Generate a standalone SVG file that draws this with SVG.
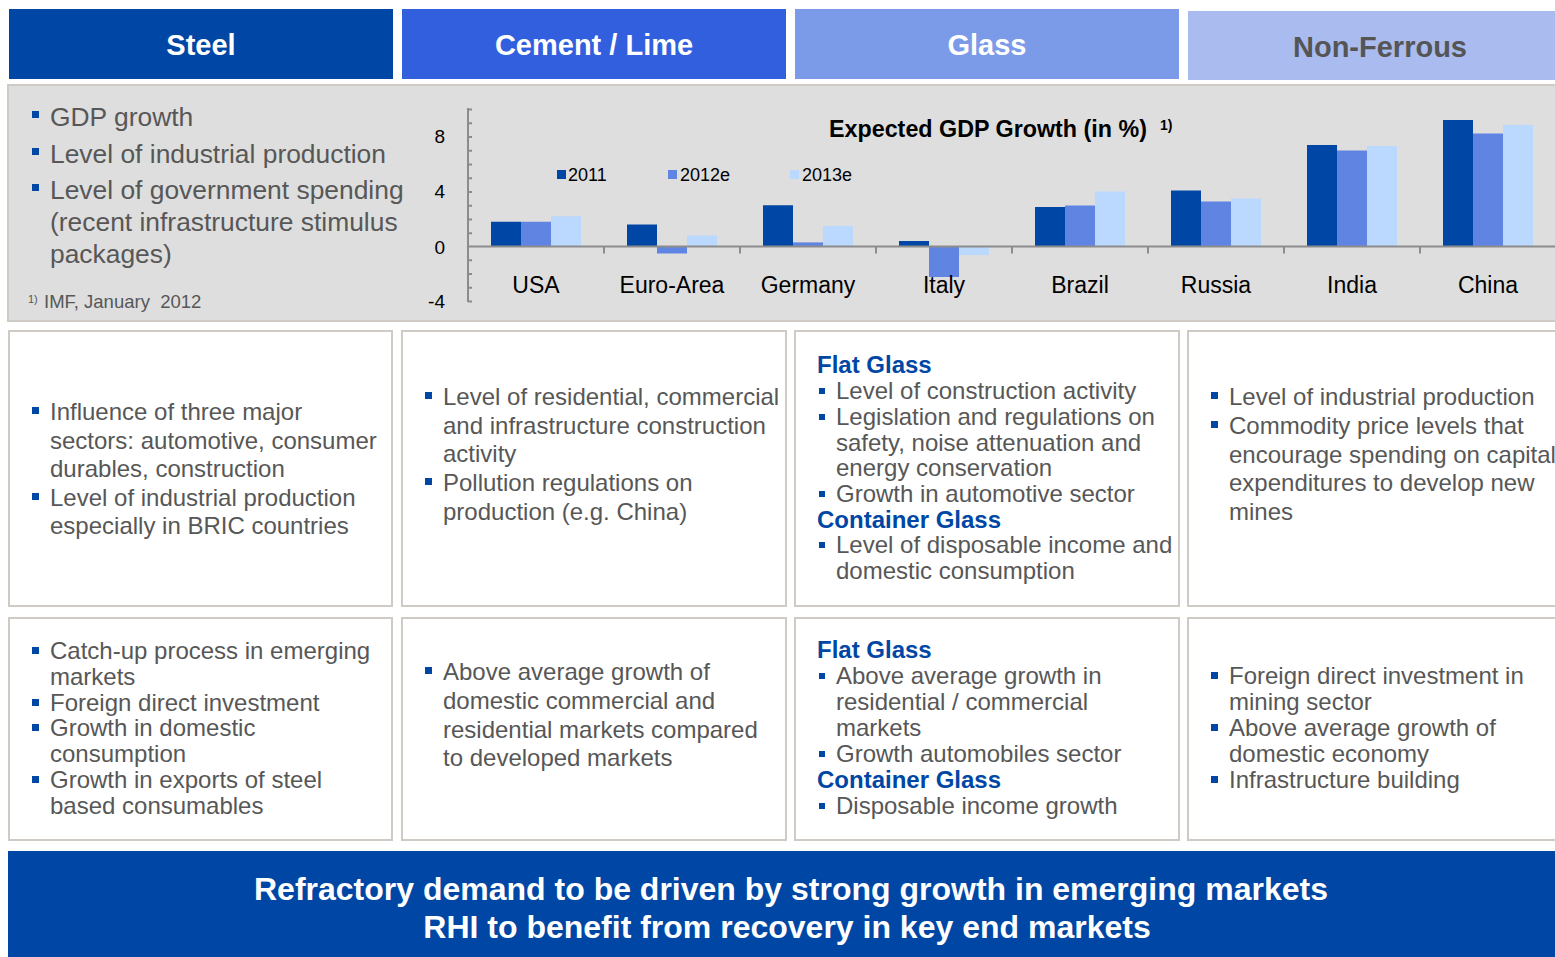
<svg xmlns="http://www.w3.org/2000/svg" width="1555" height="957" viewBox="0 0 1555 957">
<defs>
<style>
.hdr{font-family:"Liberation Sans",Arial,sans-serif;font-weight:bold;font-size:29px;fill:#fff;text-anchor:middle}
.pt{font-family:"Liberation Sans",Arial,sans-serif;font-size:26.4px;fill:#575757}
.bt{font-family:"Liberation Sans",Arial,sans-serif;font-size:24px;fill:#575757}
.sub{font-family:"Liberation Sans",Arial,sans-serif;font-size:24px;font-weight:bold;fill:#0047A5}
.box{fill:#fff;stroke:#CFCAC4;stroke-width:2}
.ax{stroke:#8C8C8C;stroke-width:2;fill:none}
.yl{font-family:"Liberation Sans",Arial,sans-serif;font-size:19px;fill:#000;text-anchor:end}
.cl{font-family:"Liberation Sans",Arial,sans-serif;font-size:23px;fill:#000;text-anchor:middle}
.lg{font-family:"Liberation Sans",Arial,sans-serif;font-size:18px;fill:#000}
.b1{fill:#0047A5}.b2{fill:#5F84E2}.b3{fill:#BBD8FF}
.ban{font-family:"Liberation Sans",Arial,sans-serif;font-weight:bold;font-size:32px;fill:#fff;text-anchor:middle}
</style>
<rect id="bl" width="7" height="7" fill="#0047A5"/>
<rect id="bs" width="6" height="6" fill="#0047A5"/>
<rect id="bp" width="7" height="7" fill="#0047A5"/>
</defs>
<rect width="1555" height="957" fill="#fff"/>

<g id="headers">
<rect x="9" y="9" width="384" height="70" fill="#0047A5"/>
<text class="hdr" x="201" y="55">Steel</text>
<rect x="402" y="9" width="384" height="70" fill="#325FDD"/>
<text class="hdr" x="594" y="55">Cement / Lime</text>
<rect x="795" y="9" width="384" height="70" fill="#7B9AE8"/>
<text class="hdr" x="987" y="55">Glass</text>
<rect x="1188" y="11" width="367" height="69" fill="#A9BBEF"/>
<text class="hdr" x="1380" y="57" style="fill:#555">Non-Ferrous</text>
</g>

<g id="gdp-panel">
<rect x="8" y="85" width="1560" height="236" fill="#DEDEDE" stroke="#CFCAC4" stroke-width="2"/>
<use href="#bp" x="32" y="111"/>
<text class="pt" x="50" y="126">GDP growth</text>
<use href="#bp" x="32" y="148"/>
<text class="pt" x="50" y="163">Level of industrial production</text>
<use href="#bp" x="32" y="184"/>
<text class="pt" x="50" y="199">Level of government spending</text>
<text class="pt" x="50" y="231">(recent infrastructure stimulus</text>
<text class="pt" x="50" y="263">packages)</text>
<text x="28" y="303" font-family="Liberation Sans, Arial, sans-serif" font-size="11" fill="#575757">1)</text>
<text x="44" y="308" font-family="Liberation Sans, Arial, sans-serif" font-size="18.5" fill="#575757" xml:space="preserve">IMF, January  2012</text>
</g>

<g id="chart">
<text class="yl" x="445" y="143">8</text>
<text class="yl" x="445" y="198">4</text>
<text class="yl" x="445" y="254">0</text>
<text class="yl" x="445" y="308">-4</text>
<text x="988" y="137" text-anchor="middle" font-family="Liberation Sans, Arial, sans-serif" font-size="23.3" font-weight="bold" fill="#000">Expected GDP Growth (in %)</text>
<text x="1160" y="130" font-family="Liberation Sans, Arial, sans-serif" font-size="14" font-weight="bold" fill="#000">1)</text>
<rect class="b1" x="557" y="170" width="9" height="9"/>
<text class="lg" x="568" y="181">2011</text>
<rect class="b2" x="668" y="170" width="9" height="9"/>
<text class="lg" x="680" y="181">2012e</text>
<rect class="b3" x="790" y="170" width="9" height="9"/>
<text class="lg" x="802" y="181">2013e</text>
<g id="bars">
<rect class="b1" x="491" y="221.75" width="30" height="24.75"/>
<rect class="b2" x="521" y="221.75" width="30" height="24.75"/>
<rect class="b3" x="551" y="216.25" width="30" height="30.25"/>
<rect class="b1" x="627" y="224.5" width="30" height="22"/>
<rect class="b2" x="657" y="246.5" width="30" height="7"/>
<rect class="b3" x="687" y="235.5" width="30" height="11"/>
<rect class="b1" x="763" y="205.25" width="30" height="41.25"/>
<rect class="b2" x="793" y="242.4" width="30" height="4.1"/>
<rect class="b3" x="823" y="225.9" width="30" height="20.6"/>
<rect class="b1" x="899" y="241" width="30" height="5.5"/>
<rect class="b2" x="929" y="246.5" width="30" height="30.5"/>
<rect class="b3" x="959" y="246.5" width="30" height="8.5"/>
<rect class="b1" x="1035" y="207" width="30" height="39.5"/>
<rect class="b2" x="1065" y="205.5" width="30" height="41"/>
<rect class="b3" x="1095" y="191.5" width="30" height="55"/>
<rect class="b1" x="1171" y="190.5" width="30" height="56"/>
<rect class="b2" x="1201" y="201.5" width="30" height="45"/>
<rect class="b3" x="1231" y="198.5" width="30" height="48"/>
<rect class="b1" x="1307" y="145" width="30" height="101.5"/>
<rect class="b2" x="1337" y="150.5" width="30" height="96"/>
<rect class="b3" x="1367" y="146" width="30" height="100.5"/>
<rect class="b1" x="1443" y="120" width="30" height="126.5"/>
<rect class="b2" x="1473" y="133.5" width="30" height="113"/>
<rect class="b3" x="1503" y="125" width="30" height="121.5"/>
</g>
<g id="axes">
<path class="ax" d="M468 108V302"/>
<path class="ax" stroke-width="1.5" d="M468 109.5h4M468 123.25h4M468 137h4M468 150.75h4M468 164.5h4M468 178.25h4M468 192h4M468 205.75h4M468 219.5h4M468 233.25h4M468 260.25h4M468 274h4M468 287.75h4M468 301.5h4"/>
<path class="ax" d="M468 246.5H1555"/>
<path class="ax" d="M604 246.5v7M740 246.5v7M876 246.5v7M1012 246.5v7M1148 246.5v7M1284 246.5v7M1420 246.5v7"/>
</g>
<text class="cl" x="536" y="293">USA</text>
<text class="cl" x="672" y="293">Euro-Area</text>
<text class="cl" x="808" y="293">Germany</text>
<text class="cl" x="944" y="293">Italy</text>
<text class="cl" x="1080" y="293">Brazil</text>
<text class="cl" x="1216" y="293">Russia</text>
<text class="cl" x="1352" y="293">India</text>
<text class="cl" x="1488" y="293">China</text>
</g>

<g id="steel-drivers">
<rect class="box" x="9" y="331" width="383" height="275"/>
<use href="#bl" x="32" y="407"/>
<text class="bt" x="50" y="420">Influence of three major</text>
<text class="bt" x="50" y="449">sectors: automotive, consumer</text>
<text class="bt" x="50" y="477">durables, construction</text>
<use href="#bl" x="32" y="493"/>
<text class="bt" x="50" y="506">Level of industrial production</text>
<text class="bt" x="50" y="534">especially in BRIC countries</text>
</g>

<g id="cement-drivers">
<rect class="box" x="402" y="331" width="384" height="275"/>
<use href="#bl" x="425" y="392"/>
<text class="bt" x="443" y="405">Level of residential, commercial</text>
<text class="bt" x="443" y="434">and infrastructure construction</text>
<text class="bt" x="443" y="462">activity</text>
<use href="#bl" x="425" y="478"/>
<text class="bt" x="443" y="491">Pollution regulations on</text>
<text class="bt" x="443" y="520">production (e.g. China)</text>
</g>

<g id="glass-drivers">
<rect class="box" x="795" y="331" width="384" height="275"/>
<text class="sub" x="817" y="373">Flat Glass</text>
<use href="#bs" x="819" y="388"/>
<text class="bt" x="836" y="399">Level of construction activity</text>
<use href="#bs" x="819" y="414"/>
<text class="bt" x="836" y="425">Legislation and regulations on</text>
<text class="bt" x="836" y="451">safety, noise attenuation and</text>
<text class="bt" x="836" y="476">energy conservation</text>
<use href="#bs" x="819" y="491"/>
<text class="bt" x="836" y="502">Growth in automotive sector</text>
<text class="sub" x="817" y="528">Container Glass</text>
<use href="#bs" x="819" y="542"/>
<text class="bt" x="836" y="553">Level of disposable income and</text>
<text class="bt" x="836" y="579">domestic consumption</text>
</g>

<g id="nonferrous-drivers">
<rect class="box" x="1188" y="331" width="380" height="275"/>
<use href="#bl" x="1211" y="392"/>
<text class="bt" x="1229" y="405">Level of industrial production</text>
<use href="#bl" x="1211" y="421"/>
<text class="bt" x="1229" y="434">Commodity price levels that</text>
<text class="bt" x="1229" y="463">encourage spending on capital</text>
<text class="bt" x="1229" y="491">expenditures to develop new</text>
<text class="bt" x="1229" y="520">mines</text>
</g>

<g id="steel-emerging">
<rect class="box" x="9" y="618" width="383" height="222"/>
<use href="#bl" x="32" y="647"/>
<text class="bt" x="50" y="659">Catch-up process in emerging</text>
<text class="bt" x="50" y="685">markets</text>
<use href="#bl" x="32" y="699"/>
<text class="bt" x="50" y="711">Foreign direct investment</text>
<use href="#bl" x="32" y="724"/>
<text class="bt" x="50" y="736">Growth in domestic</text>
<text class="bt" x="50" y="762">consumption</text>
<use href="#bl" x="32" y="776"/>
<text class="bt" x="50" y="788">Growth in exports of steel</text>
<text class="bt" x="50" y="814">based consumables</text>
</g>

<g id="cement-emerging">
<rect class="box" x="402" y="618" width="384" height="222"/>
<use href="#bl" x="425" y="667"/>
<text class="bt" x="443" y="680">Above average growth of</text>
<text class="bt" x="443" y="709">domestic commercial and</text>
<text class="bt" x="443" y="738">residential markets compared</text>
<text class="bt" x="443" y="766">to developed markets</text>
</g>

<g id="glass-emerging">
<rect class="box" x="795" y="618" width="384" height="222"/>
<text class="sub" x="817" y="658">Flat Glass</text>
<use href="#bs" x="819" y="673"/>
<text class="bt" x="836" y="684">Above average growth in</text>
<text class="bt" x="836" y="710">residential / commercial</text>
<text class="bt" x="836" y="736">markets</text>
<use href="#bs" x="819" y="751"/>
<text class="bt" x="836" y="762">Growth automobiles sector</text>
<text class="sub" x="817" y="788">Container Glass</text>
<use href="#bs" x="819" y="803"/>
<text class="bt" x="836" y="814">Disposable income growth</text>
</g>

<g id="nonferrous-emerging">
<rect class="box" x="1188" y="618" width="380" height="222"/>
<use href="#bl" x="1211" y="672"/>
<text class="bt" x="1229" y="684">Foreign direct investment in</text>
<text class="bt" x="1229" y="710">mining sector</text>
<use href="#bl" x="1211" y="724"/>
<text class="bt" x="1229" y="736">Above average growth of</text>
<text class="bt" x="1229" y="762">domestic economy</text>
<use href="#bl" x="1211" y="776"/>
<text class="bt" x="1229" y="788">Infrastructure building</text>
</g>

<g id="banner">
<rect x="8" y="851" width="1560" height="110" fill="#0047A5"/>
<text class="ban" x="791" y="900">Refractory demand to be driven by strong growth in emerging markets</text>
<text class="ban" x="787" y="938">RHI to benefit from recovery in key end markets</text>
</g>
<g id="connectors"/>
</svg>
